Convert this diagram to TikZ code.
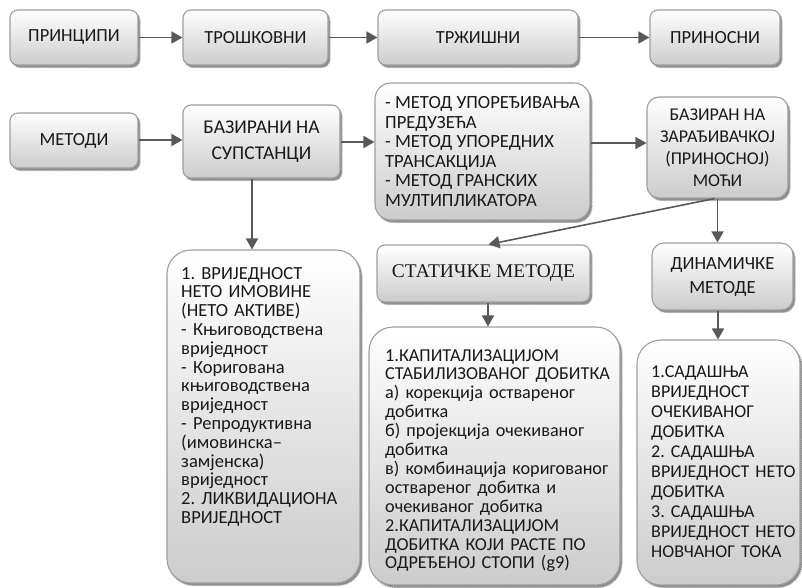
\documentclass[tikz,border=0pt]{standalone}
\usepackage{fontspec}
\setmainfont{Carlito}
\newfontfamily\serifcyr{Liberation Serif}
\usetikzlibrary{arrows.meta,shadows,calc}
\frenchspacing
\begin{document}
\begin{tikzpicture}[x=1pt,y=-1pt,
  boxbase/.style={draw=black!38, line width=1.1pt, top color=white, bottom color=black!20,
    general shadow={shadow xshift=2pt, shadow yshift=-2.5pt, fill=black!45, draw=black!30, densely dotted},
    inner sep=0pt, font=\frenchspacing\fontsize{18.5}{20}\selectfont, text=black!90},
  smallbox/.style={boxbase, rounded corners=8pt},
  bigbox/.style={boxbase, rounded corners=24pt},
  txt/.style={inner sep=0pt, align=left, anchor=base west, text=black!90},
  arr/.style={draw=black!65, line width=1.6pt, -{Triangle[length=11pt,width=12pt]}}
]
\useasboundingbox (0,0) rectangle (802,587);
% top row
\node[smallbox, minimum width=128pt, minimum height=55pt] (pr) at (74,37.5) {ПРИНЦИПИ};
\node[smallbox, minimum width=145pt, minimum height=55pt] (tr) at (255.5,37.5) {ТРОШКОВНИ};
\node[smallbox, minimum width=200pt, minimum height=55pt] (tz) at (478,37.5) {ТРЖИШНИ};
\node[smallbox, minimum width=130pt, minimum height=55pt] (pn) at (715,37.5) {ПРИНОСНИ};
% second row
\node[smallbox, minimum width=128pt, minimum height=55pt] (me) at (74,140.5) {МЕТОДИ};
\node[smallbox, minimum width=157pt, minimum height=73pt, align=center, font=\frenchspacing\fontsize{19.5}{26}\selectfont] (baz) at (261.5,141.5) {БАЗИРАНИ НА\\СУПСТАНЦИ};
\node[bigbox, rounded corners=16pt, minimum width=215pt, minimum height=137pt, align=left, font=\frenchspacing\fontsize{18.6}{19.5}\selectfont] (mid) at (482.5,151.5)
  {- МЕТОД УПОРЕЂИВАЊА\\ПРЕДУЗЕЋА\\- МЕТОД УПОРЕДНИХ\\ТРАНСАКЦИЈА\\- МЕТОД ГРАНСКИХ\\МУЛТИПЛИКАТОРА};
\node[smallbox, rounded corners=12pt, minimum width=141pt, minimum height=101pt, align=center, font=\frenchspacing\fontsize{18}{22}\selectfont] (zar) at (717.5,147.5)
  {БАЗИРАН НА\\ЗАРАЂИВАЧКОЈ\\(ПРИНОСНОЈ)\\МОЋИ};
% third row
\node[bigbox, minimum width=193pt, minimum height=333pt] (vol) at (263.5,416.5) {};
\node[txt, text width=180pt, font=\frenchspacing\fontsize{18.5}{18.8}\selectfont] (voltxt) at (181,279)
  {1. ВРИЈЕДНОСТ\\НЕТО ИМОВИНЕ\\(НЕТО АКТИВЕ)\\- Књиговодствена\\вриједност\\- Коригована\\књиговодствена\\вриједност\\- Репродуктивна\\(имовинска–\\замјенска)\\вриједност\\2. ЛИКВИДАЦИОНА\\ВРИЈЕДНОСТ};
\node[smallbox, minimum width=213pt, minimum height=57pt, font=\serifcyr\fontsize{19.4}{20}\selectfont] (stat) at (483.5,273.5) {СТАТИЧКЕ МЕТОДЕ};
\node[bigbox, minimum width=251pt, minimum height=258pt] (sc) at (494.5,456) {};
\node[txt, text width=240pt, font=\frenchspacing\fontsize{18.2}{18.9}\selectfont] (sctxt) at (385,361)
  {1.КАПИТАЛИЗАЦИЈОМ\\СТАБИЛИЗОВАНОГ ДОБИТКА\\а) корекција оствареног\\добитка\\б) пројекција очекиваног\\добитка\\в) комбинација коригованог\\оствареног добитка и\\очекиваног добитка\\2.КАПИТАЛИЗАЦИЈОМ\\ДОБИТКА КОЈИ РАСТЕ ПО\\ОДРЕЂЕНОЈ СТОПИ (g9)};
\node[smallbox, rounded corners=12pt, minimum width=141pt, minimum height=67pt, align=center, font=\frenchspacing\fontsize{18.6}{24}\selectfont] (din) at (722.5,276.5) {ДИНАМИЧКЕ\\МЕТОДЕ};
\node[bigbox, minimum width=163pt, minimum height=245pt] (dc) at (718.5,462.5) {};
\node[txt, text width=150pt, font=\frenchspacing\fontsize{18}{20}\selectfont] (dctxt) at (651,377)
  {1.САДАШЊА\\ВРИЈЕДНОСТ\\ОЧЕКИВАНОГ\\ДОБИТКА\\2. САДАШЊА\\ВРИЈЕДНОСТ НЕТО\\ДОБИТКА\\3. САДАШЊА\\ВРИЈЕДНОСТ НЕТО\\НОВЧАНОГ ТОКА};
% connectors
\draw[arr] (pr) -- (tr);
\draw[arr] (tr) -- (tz);
\draw[arr] (tz) -- (pn);
\draw[arr] (me.east |- 0,140) -- (baz.west |- 0,140);
\draw[arr] (baz.east |- 0,142) -- (mid.west |- 0,142);
\draw[arr] (mid.east |- 0,143) -- (zar.west |- 0,143);
\draw[arr] (baz.south -| 252,0) -- (vol.north -| 252,0);
\draw[arr] ($(zar.south)+(-3,0)$) -- ($(stat.north)+(5,0)$);
\draw[arr] (zar.south) -- (zar.south |- din.north);
\draw[arr] (stat.south -| 488,0) -- (sc.north -| 488,0);
\draw[arr] (din.south -| 718,0) -- (dc.north -| 718,0);
\end{tikzpicture}
\end{document}
